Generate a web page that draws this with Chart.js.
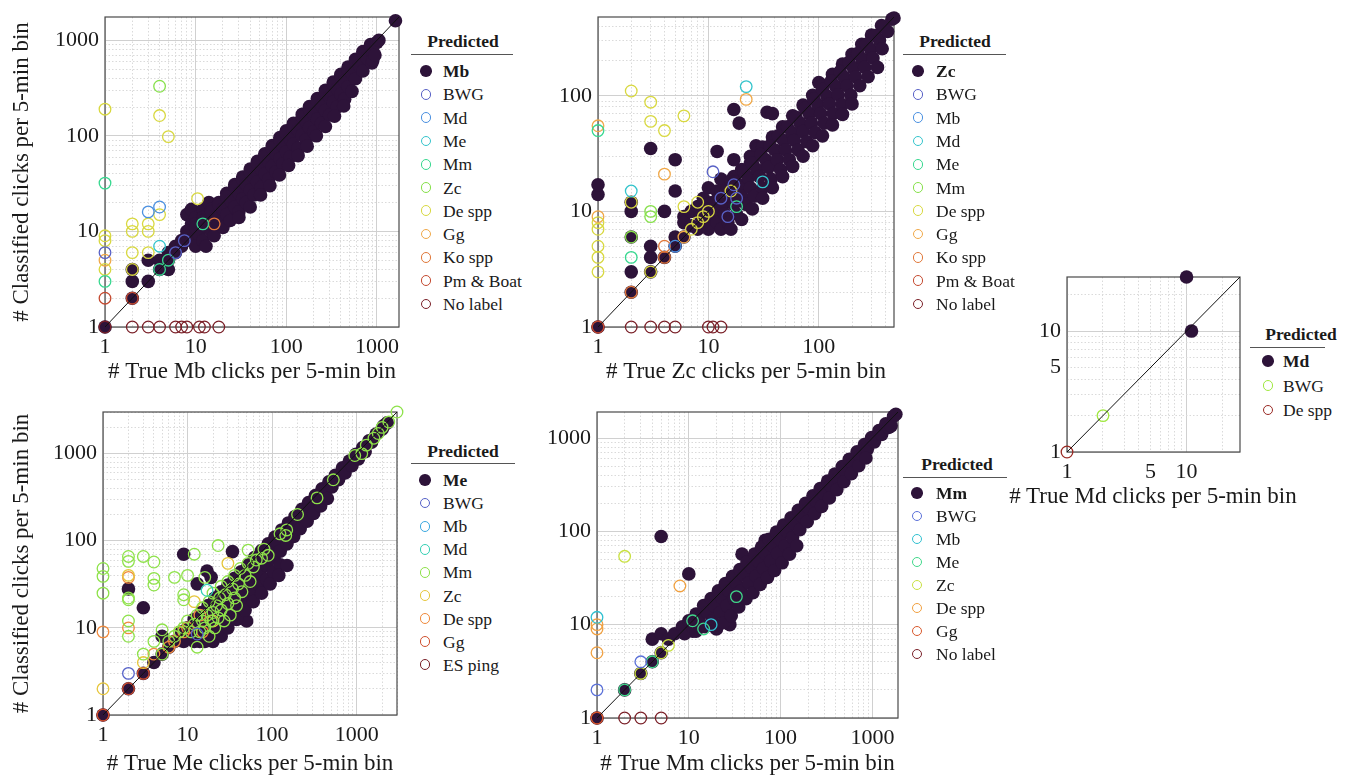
<!DOCTYPE html>
<html>
<head>
<meta charset="utf-8">
<script src="https://cdn.jsdelivr.net/npm/chart.js@4.4.0/dist/chart.umd.min.js"></script>
<style>
  body { margin: 0; background: #fff; width: 1359px; height: 778px; position: relative; overflow: hidden;
         font-family: 'Liberation Serif', 'Times New Roman', serif; color: #1a1a1a; }
  canvas { position: absolute; }
  .lg { position: absolute; font-size: 17.5px; line-height: 22px; white-space: nowrap; }
  .lg-title { font-weight: bold; }
  .lg-line { position: absolute; height: 0; border-top: 1.3px solid #555; }
  .lg-mark { position: absolute; border-radius: 50%; box-sizing: border-box; }
  .xt { position: absolute; font-size: 23px; line-height: 23px; white-space: nowrap; transform: translateX(-50%); }
</style>
</head>
<body>
<canvas id="pMb" width="410" height="390" style="left:0px;top:0px"></canvas>
<canvas id="pZc" width="375" height="390" style="left:530px;top:0px"></canvas>
<canvas id="pMd" width="250" height="255" style="left:1000px;top:260px"></canvas>
<canvas id="pMe" width="408" height="383" style="left:0px;top:395px"></canvas>
<canvas id="pMm" width="380" height="383" style="left:530px;top:395px"></canvas>
<div class="xt" style="left:1153px;top:484px"># True Md clicks per 5-min bin</div>

<script>
// tick labels
const decadeTicks = [1, 10, 100, 1000];
const mdTicks = [1, 5, 10];

// ---- Mb panel: [true, classified] ----
const mbNames = ['Mb', 'BWG', 'Md', 'Me', 'Mm', 'Zc', 'De spp', 'Gg', 'Ko spp', 'Pm & Boat', 'No label'];
const mbColors = ['#2d1339', '#5861c6', '#4a90e0', '#34c4cc', '#38d890', '#86e04a', '#d8d840', '#f0a848', '#e0783a', '#c44a30', '#7a2028'];
const mbMb = [[1,1],[2,2],[2,3],[2,4],[3,3],[3,5],[4,4],[4,5],[5,4],[5,5],[5,6],[6,6],[6,7],[7,7],[7,8],
  [8,15],[9,17],[9,12],[10,14],[12,17],[14,20],
  [8,10],[10,12],[12,14],[15,17],[18,20],[22,25],[27,31],[33,37],[40,45],[48,54],[58,65],[70,79],[85,96],[100,113],
  [120,135],[150,168],[180,202],[220,246],[270,300],[330,365],[400,440],[480,525],[580,630],[700,760],[850,900],
  [8,9],[10,11],[12,13],[15,16],[18,19],[22,23],[27,29],[33,35],[40,42],[48,51],[58,61],[70,74],[85,90],[100,106],
  [120,127],[150,158],[180,190],[220,232],[270,283],[330,345],[400,420],[480,500],[580,605],[700,720],[850,860],
  [9,8],[11,9],[13.5,11],[16.5,14],[20,17],[24.5,21],[30,25],[36,31],[44,37],[53,45],[64,54],[77,65],[92,78],[110,93],
  [135,114],[165,140],[200,170],[245,208],[300,255],[365,310],[440,375],[530,450],[640,545],[770,655],[900,760],
  [10,7],[12,8],[15,10],[18,12],[22,15],[27,18],[33,22],[40,27],[48,33],[58,40],[70,48],[85,58],[100,68],[120,82],
  [150,102],[180,122],[220,150],[270,184],[330,225],[400,272],[480,326],[580,395],[700,476],
  [13,7],[16,9],[20,11],[24,13],[30,16],[36,20],[44,24],[53,29],[64,35],[77,42],[92,51],[110,60],[135,74],[165,91],
  [200,110],[245,135],[300,165],[365,201],[440,242],[530,292],
  [30,14],[40,18],[52,24],[66,30],[84,39],[106,49],[135,62],[170,78],[215,100],[270,125],[340,160],[430,205],
  [880,580],[900,620],[950,700],[1000,950],[1050,1000],[1600,1600]];
const mbBWG = [[1,6],[6,6],[7.5,8]];
const mbMd = [[3,16],[4,18]];
const mbMe = [[4,7]];
const mbMm = [[1,32],[1,3],[4,4],[5,5],[12,12]];
const mbZc = [[4,330]];
const mbDe = [[1,190],[4,163],[5,98],[10.5,22],[2,12],[2,10],[3,12],[3,10],[4,15],[1,9],[1,8],[1,4],[2,6],[3,6],[2,4]];
const mbGg = [[1,5]];
const mbKo = [[16,12]];
const mbPm = [[1,2],[2,2]];
const mbNone = [[1,1],[2,1],[3,1],[4,1],[6,1],[7,1],[8,1],[11,1],[12.5,1],[18,1]];

// ---- Zc panel ----
const zcNames = ['Zc', 'BWG', 'Mb', 'Md', 'Me', 'Mm', 'De spp', 'Gg', 'Ko spp', 'Pm & Boat', 'No label'];
const zcColors = ['#2d1339', '#5861c6', '#4a90e0', '#34c4cc', '#38d890', '#86e04a', '#d8d840', '#f0a848', '#e0783a', '#c44a30', '#7a2028'];
const zcZc = [[1,1],[1,14],[1,17],[2,2],[2,3],[2,6],[2,10],[2,12],[3,3],[3,4],[3,5],[3,35],[4,4],[4,10],[5,5],[5,6],[5,15],
  [5,28],[6,6],[6,9],[6,8],[7,10],[8,11],[12,33],[17,76],[19,58],[34,72],[38,70],[100,130],
  [9,13],[10,16],[11,12],[12,15],[13,19],[15,12],[15,16],[17,14],[17,20],[17,28],[19,17],[21,22],[24,26],[27,37],[24,30],[28,35],
  [10,11.5],[13,15],[16,18.5],[20,23],[25,29],[31,36],[38,44],[47,54],[58,67],[72,83],[88,101],[108,124],[133,153],
  [164,188],[200,228],[245,278],[300,335],[370,405],
  [7,7.5],[8.5,9],[10,10.5],[12,12.5],[14.5,15],[17.5,18],[21,22],[25,26],[30,31],[36,37],[43,45],[52,54],[62,65],[75,78],
  [90,94],[108,113],[130,135],[156,162],[187,194],[225,232],[270,278],[325,332],[390,395],[460,460],
  [8,7],[9.5,8],[11,9.5],[13,11],[16,13.5],[19,16],[23,19.5],[27.5,23],[33,28],[40,34],[48,41],[57,48],[68,58],[82,70],
  [98,84],[118,100],[142,121],[170,145],[205,175],[245,210],[295,252],[355,303],[420,360],
  [10,7],[12,8],[14,9.5],[17,11.5],[20,13.5],[24,16],[29,20],[35,24],[42,28],[50,34],[60,41],[72,49],[86,58],[104,70],
  [125,85],[150,102],[180,122],[215,146],[260,176],[310,212],[375,255],
  [13,7],[15,8],[18,9.5],[22,11.5],[26,13.5],[31,16],[37,19],[45,23],[54,28],[65,34],[78,40],[93,48],[112,58],[135,70],
  [162,84],[195,101],[235,122],[280,146],[340,176],
  [16,7],[20,8.5],[25,10.5],[31,13],[38,16],[47,20],[58,24.5],[72,30],[88,37],[108,45],[133,56],[164,69],[200,85],
  [480,470]];
const zcBWG = [[11,22],[17,17],[13,13],[18,13],[15,9]];
const zcMb = [[5,5]];
const zcMd = [[22,120],[31,18],[2,15]];
const zcMe = [[2,4],[1,50],[18,11]];
const zcMm = [[3,10],[3,9],[2,6]];
const zcDe = [[2,110],[3,88],[3,60],[4,50],[6,67],[1,8],[1,7],[1,5],[1,4],[1,3],[2,12],[3,3],[6,11],[8,12],[16,15],[10,10],[7,7],[8,8],[9,9]];
const zcGg = [[22,93],[4,21],[1,55],[1,9],[6,6]];
const zcKo = [[4,5],[2,2],[4,4]];
const zcPm = [[1,1]];
const zcNone = [[1,1],[2,1],[3,1],[4,1],[5,1],[10,1],[11,1],[13,1]];

// ---- Md panel ----
const mdNames = ['Md', 'BWG', 'De spp'];
const mdColors = ['#2d1339', '#a0e840', '#9a2a24'];
const mdMd = [[10,28],[11,10]];
const mdBWG = [[2,2]];
const mdDe = [[1,1]];

// ---- Me panel ----
const meNames = ['Me', 'BWG', 'Mb', 'Md', 'Mm', 'Zc', 'De spp', 'Gg', 'ES ping'];
const meColors = ['#2d1339', '#5561c8', '#3aa8e0', '#34d0b4', '#8ee24a', '#e6c63c', '#f08a3c', '#d0502e', '#7a2028'];
const meMe = [[1,1],[2,2],[2,28],[3,3],[3,17],[4,4],[5,8],[9,70],[13,32],[17,45],[19,38],[34,75],[50,12],[44,32],[20,7],[25,8],[14,7],
  [5,5],[6,6],[7,7],[8.5,9],[10,10],[12,12.5],[14.5,15],[17.5,18],[21,22],[25,26],[30,31],[36,37],[43,44],[52,53],[62,64],
  [75,77],[90,92],[108,110],[130,133],[156,160],[187,190],[225,230],[270,275],[325,330],[390,395],[470,475],[560,565],[680,685],
  [820,820],[980,980],[1180,1170],[1400,1400],[1700,1680],[2050,2030],
  [9,7],[11,9],[13,10.5],[16,13],[19,15],[23,18.5],[27.5,22],[33,26],[40,32],[48,38],[57,45],[68,54],[82,65],[98,78],[118,94],
  [142,113],[170,136],[205,165],[245,197],[295,238],[355,288],[425,345],[510,415],[610,500],[730,600],[880,725],[1050,870],[1260,1050],
  [12,7],[14,8.5],[17,10],[20,12],[24,14.5],[29,17.5],[35,21],[42,25],[50,30],[60,36],[72,43],[86,52],[104,63],[125,76],
  [150,92],[180,112],[215,137],[260,168],[310,205],[375,250],[450,305],
  [16,7],[19,8],[23,9.5],[28,12],[34,14],[41,17],[50,21],[60,25],[72,30],[86,36],[104,44],[125,53],
  [30,10],[38,12.5],[48,16],[60,20],[75,25],[95,32],[120,40],[150,52],
  [1250,1200],[1500,1350],[2000,1900],[2100,2100],[2300,2250]];
const meBWG = [[2,3],[13,8.5]];
const meMb = [];
const meMd = [[17,27]];
const meMm = [[1,48],[1,39],[1,25],[2,66],[2,58],[2,22],[2,21],[2,12],[2,8],[3,66],[3,5],[4,57],[4,37],[4,31],[4,7],[5,9.5],
  [5,5],[6,7],[7,38],[7,8],[8,9],[9,24],[9,21],[9,10],[10,40],[10,12],[11,9],[12,70],[12,11],[13,6],[13,14],[14,9],[15,12],
  [15,17],[16,38],[16,10],[17,14],[18,20],[18,8],[19,12],[20,25],[20,15],[21,10],[22,18],[23,88],[23,13],[24,22],[25,30],
  [25,16],[27,12],[28,24],[30,34],[30,19],[32,14],[34,28],[36,40],[36,22],[38,18],[40,32],[42,48],[44,26],[48,40],[52,78],
  [52,55],[55,34],[60,50],[65,60],[75,63],[80,80],[90,68],[124,120],[149,133],[145,115],[200,200],[340,310],[530,500],
  [950,950],[1150,1000],[1300,1250],[1600,1500],[1800,1700],[2000,2000],[2400,2300],[3000,3000]];
const meZc = [[1,2],[2,40],[3,4],[30,55],[12,20],[20,12],[8,9]];
const meDe = [[1,9],[2,10],[2,38],[4,5],[6,6],[7,7],[9,9],[10,10],[14,14],[15,9]];
const meGg = [[1,1],[2,2],[3,3]];
const meES = [[1,1]];

// ---- Mm panel ----
const mmNames = ['Mm', 'BWG', 'Mb', 'Me', 'Zc', 'De spp', 'Gg', 'No label'];
const mmColors = ['#2d1339', '#5a70d8', '#30c0d0', '#40d88a', '#c8e040', '#f0a040', '#d8582c', '#7a2028'];
const mmMm = [[1,1],[2,2],[3,3],[4,4],[4,7],[5,5],[5,8],[5,88],[10,35],[38,57],[68,80],[98,50],[28,10],[11,8.5],
  [6,7],[7,8],[8.5,9.5],[10,11],[12,13],[14.5,16],[17.5,19],[21,23],[25,27.5],[30,33],[36,39],[43,47],[52,57],[62,68],[75,82],
  [90,98],[108,117],[130,140],[156,168],[187,200],[225,240],[270,288],[325,345],[390,412],[470,495],[560,590],[680,710],
  [820,850],[980,1010],[1180,1200],[1400,1420],[1700,1710],
  [9,8],[11,9.5],[13,11],[16,13.5],[19,16],[23,19.5],[27.5,23],[33,28],[40,34],[48,41],[57,48],[68,58],[82,70],[98,83],
  [118,100],[142,121],[170,145],[205,175],[245,210],[295,252],[355,305],[425,365],[510,440],[610,525],[730,630],[880,760],
  [1050,910],[1260,1090],[1500,1300],
  [12,8.5],[15,9.5],[18,11],[22,13.5],[26,16],[31,19],[37,23],[45,28],[54,33],[65,40],[78,48],[93,58],[112,70],[135,86],
  [162,104],[195,127],[235,155],[280,185],[340,228],[410,280],[490,340],[590,415],[710,505],[850,610],
  [20,9],[24,10.5],[29,12.5],[35,15.5],[42,19],[50,22],[60,27],[72,32],[86,38],[104,46],[125,57],[150,70],
  [1600,1350],[1800,1800]];
const mmBWG = [[1,2],[3,4]];
const mmMb = [[1,12],[17.5,10]];
const mmMe = [[2,2],[4,4],[11,11],[14.5,9],[33,20]];
const mmZc = [[2,54],[3,3],[5,5],[6,6]];
const mmDe = [[8,26],[1,10],[1,9],[1,5]];
const mmGg = [[1,1]];
const mmNone = [[1,1],[2,1],[3,1],[5,1]];

Chart.defaults.font.family = "'Liberation Serif', 'Times New Roman', serif";
Chart.defaults.color = '#1a1a1a';

function isDecade(v) {
  const l = Math.log10(v);
  return Math.abs(l - Math.round(l)) < 1e-9;
}

// grid lines at 1..9 x 10^k, like the original
function gridValues(max) {
  const out = [];
  for (let d = 1; d <= max; d *= 10) {
    for (let s = 1; s < 10; s++) {
      if (s * d <= max) out.push(s * d);
    }
  }
  return out;
}

// frame round the plot area
const boxPlugin = {
  id: 'box',
  beforeDatasetsDraw(chart) {
    const { ctx, chartArea: a } = chart;
    ctx.save();
    ctx.strokeStyle = '#4a4a4a';
    ctx.lineWidth = 1.2;
    ctx.strokeRect(a.left, a.top, a.right - a.left, a.bottom - a.top);
    ctx.restore();
  }
};

function logAxis(p, isX) {
  const title = isX ? p.xTitle : p.yTitle;
  return {
    type: 'logarithmic',
    min: 1,
    max: p.max,
    afterFit(scale) {
      if (isX) scale.height = p.xh; else scale.width = p.yw;
    },
    afterBuildTicks(scale) {
      scale.ticks = gridValues(p.max).map(v => ({ value: v }));
    },
    ticks: {
      autoSkip: false,
      maxRotation: 0,
      padding: isX ? 9 : 6,
      color: '#1a1a1a',
      font: { size: 22, lineHeight: 1 },
      callback: v => p.ticks.includes(v) ? String(v) : ''
    },
    grid: {
      drawTicks: false,
      lineWidth: 1,
      color: c => (c.tick && isDecade(c.tick.value)) ? '#d0d0d0' : '#dadada'
    },
    border: {
      display: false,
      dash: c => (c.tick && !isDecade(c.tick.value)) ? [1.5, 2] : []
    },
    title: {
      display: !!title,
      text: title || '',
      color: '#1a1a1a',
      font: { size: 23, lineHeight: 1 },
      padding: isX ? { top: 0, bottom: p.xtb } : { top: 10, bottom: 0 }
    }
  };
}

function makePanel(id, p) {
  const datasets = [{
    type: 'line',
    data: [{ x: 1, y: 1 }, { x: p.max, y: p.max }],
    borderColor: '#111',
    borderWidth: 1,
    pointRadius: 0,
    order: 0
  }];
  p.series.forEach((s, i) => {
    datasets.push({
      label: p.names[i],
      data: s.map(pt => ({ x: pt[0], y: pt[1] })),
      pointRadius: i === 0 ? 6.8 : 5.8,
      pointBorderWidth: i === 0 ? 0 : 1.3,
      pointBackgroundColor: i === 0 ? p.colors[0] : 'rgba(0,0,0,0)',
      pointBorderColor: p.colors[i],
      showLine: false,
      order: i === 0 ? 2 : 1,
      clip: false
    });
  });

  return new Chart(document.getElementById(id), {
    type: 'scatter',
    data: { datasets },
    options: {
      responsive: false,
      animation: false,
      events: [],
      layout: { padding: { left: 0, top: p.pt, right: p.pr, bottom: 0 } },
      plugins: { legend: { display: false }, tooltip: { enabled: false } },
      scales: { x: logAxis(p, true), y: logAxis(p, false) }
    },
    plugins: [boxPlugin]
  });
}

function makeLegend(names, colors, L) {
  const body = document.body;
  const title = document.createElement('div');
  title.className = 'lg lg-title';
  title.textContent = 'Predicted';
  title.style.left = L.titleCX + 'px';
  title.style.top = (L.titleCY - 11) + 'px';
  title.style.transform = 'translateX(-50%)';
  body.appendChild(title);

  const line = document.createElement('div');
  line.className = 'lg-line';
  line.style.left = L.lineL + 'px';
  line.style.width = (L.lineR - L.lineL) + 'px';
  line.style.top = L.lineY + 'px';
  body.appendChild(line);

  names.forEach((name, i) => {
    const y = L.firstY + i * L.step;
    const r = i === 0 ? 5.8 : 5.4;
    const m = document.createElement('div');
    m.className = 'lg-mark';
    m.style.left = (L.markX - r) + 'px';
    m.style.top = (y - r) + 'px';
    m.style.width = m.style.height = (2 * r) + 'px';
    if (i === 0) m.style.background = colors[0];
    else m.style.border = '1.3px solid ' + colors[i];
    body.appendChild(m);

    const t = document.createElement('div');
    t.className = 'lg';
    t.textContent = name;
    t.style.left = L.textX + 'px';
    t.style.top = (y - 11) + 'px';
    if (i === 0) t.style.fontWeight = 'bold';
    body.appendChild(t);
  });
}

const yTitle = '# Classified clicks per 5-min bin';

makePanel('pMb', {
  max: 1750, ticks: decadeTicks, names: mbNames, colors: mbColors,
  series: [mbMb, mbBWG, mbMd, mbMe, mbMm, mbZc, mbDe, mbGg, mbKo, mbPm, mbNone],
  xTitle: '# True Mb clicks per 5-min bin', yTitle: yTitle,
  yw: 105, xh: 63, pt: 10, pr: 11, xtb: 6.5
});
makePanel('pZc', {
  max: 480, ticks: decadeTicks, names: zcNames, colors: zcColors,
  series: [zcZc, zcBWG, zcMb, zcMd, zcMe, zcMm, zcDe, zcGg, zcKo, zcPm, zcNone],
  xTitle: '# True Zc clicks per 5-min bin',
  yw: 68, xh: 63, pt: 9, pr: 11, xtb: 6.5
});
// the Md x title is set as a page div: the axis title would be squeezed to the narrow plot width
makePanel('pMd', {
  max: 28, ticks: mdTicks, names: mdNames, colors: mdColors,
  series: [mdMd, mdBWG, mdDe],
  yw: 67, xh: 63, pt: 16, pr: 10, xtb: 5.5
});
makePanel('pMe', {
  max: 3000, ticks: decadeTicks, names: meNames, colors: meColors,
  series: [meMe, meBWG, meMb, meMd, meMm, meZc, meDe, meGg, meES],
  xTitle: '# True Me clicks per 5-min bin', yTitle: yTitle,
  yw: 103, xh: 63, pt: 14, pr: 11, xtb: 2.5
});
makePanel('pMm', {
  max: 1900, ticks: decadeTicks, names: mmNames, colors: mmColors,
  series: [mmMm, mmBWG, mmMb, mmMe, mmZc, mmDe, mmGg, mmNone],
  xTitle: '# True Mm clicks per 5-min bin',
  yw: 67, xh: 60, pt: 11, pr: 12, xtb: 2.5
});

makeLegend(mbNames, mbColors, { titleCX: 463, titleCY: 41, lineL: 411, lineR: 513, lineY: 54, markX: 426, textX: 443, firstY: 71, step: 23.3 });
makeLegend(zcNames, zcColors, { titleCX: 955, titleCY: 41, lineL: 903, lineR: 1006, lineY: 54, markX: 918, textX: 936, firstY: 71, step: 23.3 });
makeLegend(mdNames, mdColors, { titleCX: 1301, titleCY: 334, lineL: 1250, lineR: 1325, lineY: 347, markX: 1268, textX: 1283, firstY: 361, step: 24.5 });
makeLegend(meNames, meColors, { titleCX: 463, titleCY: 451, lineL: 411, lineR: 515, lineY: 463, markX: 425, textX: 443, firstY: 480, step: 23.1 });
makeLegend(mmNames, mmColors, { titleCX: 957, titleCY: 464, lineL: 903, lineR: 1007, lineY: 477, markX: 917, textX: 936, firstY: 493, step: 23 });
</script>
</body>
</html>
